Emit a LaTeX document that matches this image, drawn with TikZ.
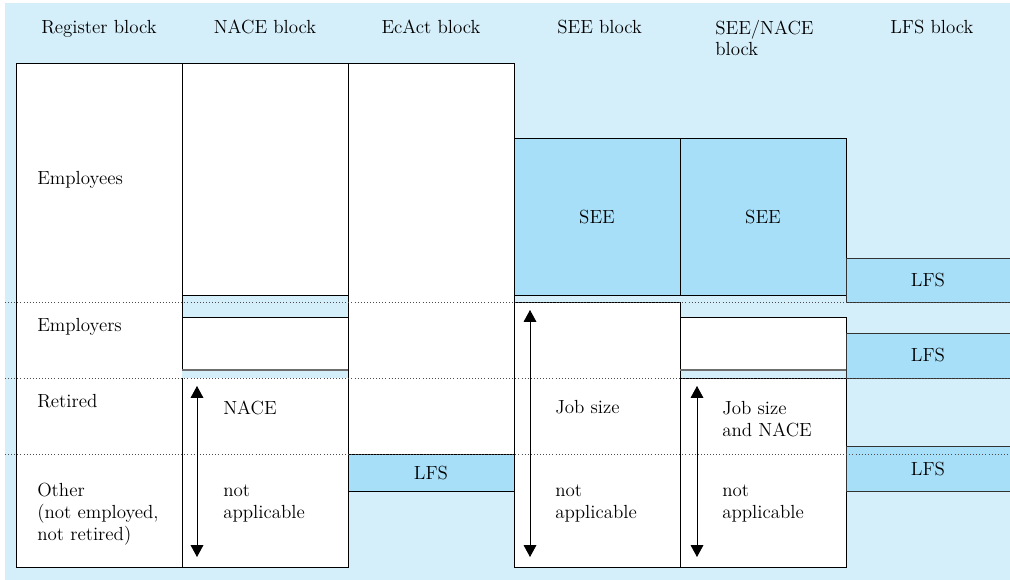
\documentclass[tikz,border=0pt]{standalone}
\usepackage{xcolor}
\usepackage{tikz}
\usetikzlibrary{arrows.meta,positioning}
\definecolor{bgBlue}{HTML}{D4EEFA}
\definecolor{boxBlue}{HTML}{A8DFF8}
\definecolor{edgeGray}{HTML}{6E6E6E}

\tikzset{
  cell/.style={draw=black,line width=0.7pt},
  lbl/.style={align=left,anchor=base west,inner sep=0pt},
  hdr/.style={anchor=base,inner sep=0pt},
  sepline/.style={dash pattern=on 0.6pt off 1.6pt,line width=0.7pt,black!70},
  span/.style={{Triangle[length=3mm,width=3.2mm]}-{Triangle[length=3mm,width=3.2mm]},line width=0.6pt}
}

\begin{document}
\begin{tikzpicture}[x=0.25mm,y=-0.25mm,font=\fontsize{13.5}{15.6}\selectfont]
\useasboundingbox (0,0) rectangle (1010,580);
\fill[bgBlue] (5,3) rectangle (1010,580);
% register and NACE columns
\filldraw[cell,fill=white] (16,63) rectangle (182,567);
\filldraw[cell,fill=white] (182,63) rectangle (348,567);
\filldraw[cell,fill=bgBlue] (182,295) rectangle (348,317);
\fill[bgBlue] (182,370) rectangle (348,378);
\draw[edgeGray,line width=1pt] (182,370) -- (348,370);
% EcAct column
\filldraw[cell,fill=white] (348,63) rectangle (514,454);
\filldraw[cell,fill=boxBlue] (348,454) rectangle (514,491);
% SEE and SEE/NACE columns
\filldraw[cell,fill=boxBlue] (514,138) rectangle (680,295);
\filldraw[cell,fill=boxBlue] (680,138) rectangle (846,295);
\filldraw[cell,fill=white] (514,302) rectangle (680,567);
\fill[white] (680,317) rectangle (846,370);
\draw[cell] (680,370) -- (680,317) -- (846,317) -- (846,370);
\draw[edgeGray,line width=1pt] (680,370) -- (846,370);
\filldraw[cell,fill=white] (680,378) rectangle (846,567);
% LFS column
\foreach \top/\bot in {258/302,333/378,446/491}{
  \fill[boxBlue] (846,\top) rectangle (1010,\bot);
  \draw[draw=black!80,line width=0.7pt] (1010,\top) -- (846,\top) -- (846,\bot) -- (1010,\bot);
}
% row separators
\foreach \y in {302,378,454}
  \draw[sepline] (5,\y) -- (1010,\y);

% column headers
\node[hdr] (hdrRegister) at (99,34) {Register block};
\node[hdr] (hdrNace) at (265,34) {NACE block};
\node[hdr] (hdrEcAct) at (431,34) {EcAct block};
\node[lbl] (hdrSee) at (557,34) {SEE block};
\node[lbl] (hdrSeeNace) at (715,56) {SEE/NACE\\block};
\node[lbl] (hdrLfs) at (890,34) {LFS block};

% row labels
\node[lbl] (rowEmployees) at (37,185) {Employees};
\node[lbl] (rowEmployers) at (37,332) {Employers};
\node[lbl] (rowRetired) at (37,407) {Retired};
\node[lbl] (rowOther) at (37,540) {Other\\(not employed,\\not retired)};

% cell texts
\node[lbl] (naceLabel) at (223,415) {NACE};
\node[lbl] (naceNA) at (223,518) {not\\applicable};
\node[hdr] (seeBox) at (597,224) {SEE};
\node[hdr] (seeNaceBox) at (763,224) {SEE};
\node[hdr] (ecactLfs) at (431,479) {LFS};
\node[hdr] (lfsA) at (928,287) {LFS};
\node[hdr] (lfsB) at (928,362) {LFS};
\node[hdr] (lfsC) at (928,475) {LFS};
\node[lbl] (jobSize) at (555,414) {Job size};
\node[lbl] (jobSizeNA) at (555,518) {not\\applicable};
\node[lbl] (jobNace) at (722,436) {Job size\\and NACE};
\node[lbl] (jobNaceNA) at (722,518) {not\\applicable};

% range arrows
\coordinate (naceTop) at (197,386);
\coordinate (naceBot) at (197,557);
\coordinate (seeTop) at (530,310);
\coordinate (seeBot) at (530,557);
\coordinate (snTop) at (697,386);
\coordinate (snBot) at (697,557);
\draw[span] (naceTop) -- (naceBot);
\draw[span] (seeTop) -- (seeBot);
\draw[span] (snTop) -- (snBot);
\end{tikzpicture}
\end{document}
